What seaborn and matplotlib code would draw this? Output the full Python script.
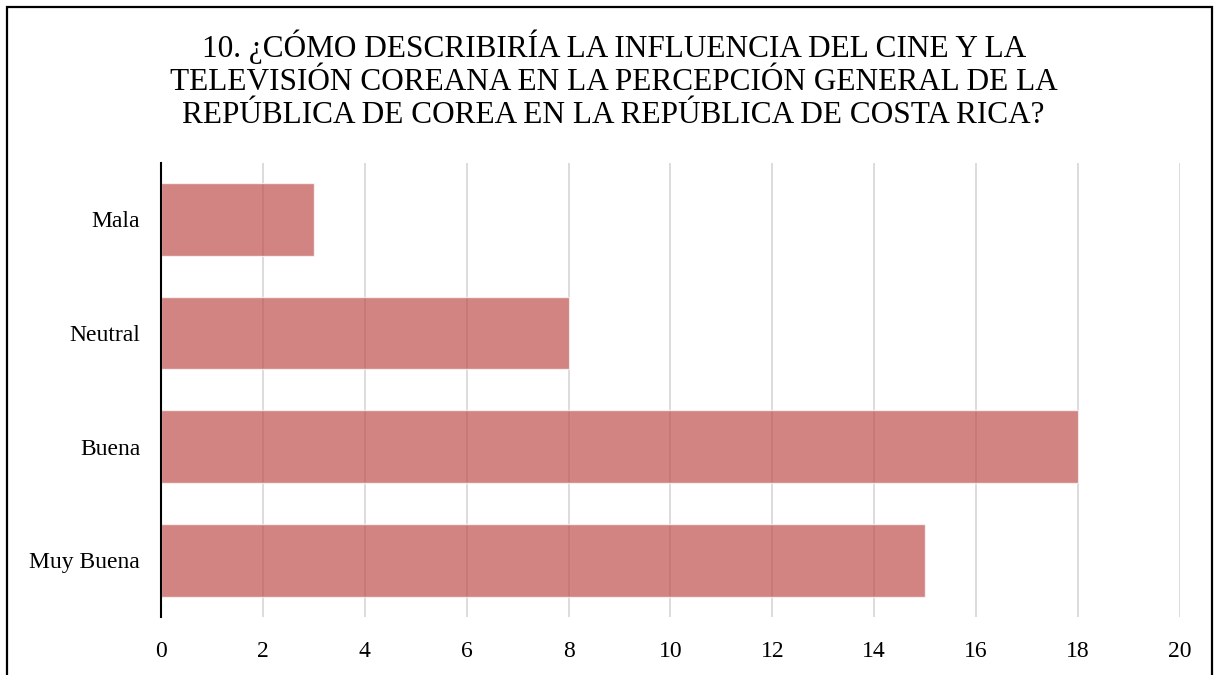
"""Horizontal bar chart: influence of Korean film and TV on perception of Korea in Costa Rica."""

import matplotlib

matplotlib.use("Agg")
import matplotlib.pyplot as plt
import pandas as pd
import seaborn as sns
from matplotlib.patches import Rectangle

categories = ["Mala", "Neutral", "Buena", "Muy Buena"]
counts = [3, 8, 18, 15]
x_ticks = [0, 2, 4, 6, 8, 10, 12, 14, 16, 18, 20]

title = (
    "10. ¿CÓMO DESCRIBIRÍA LA INFLUENCIA DEL CINE Y LA\n"
    "TELEVISIÓN COREANA EN LA PERCEPCIÓN GENERAL DE LA\n"
    "REPÚBLICA DE COREA EN LA REPÚBLICA DE COSTA RICA?"
)

sns.set_style("white")
plt.rcParams["font.family"] = ["Liberation Serif", "DejaVu Serif"]

df = pd.DataFrame({"categoria": categories, "cantidad": counts})

fig = plt.figure(figsize=(12.2, 6.75), dpi=100)
ax = fig.add_axes([0.132, 0.086, 0.835, 0.673])

sns.barplot(
    data=df,
    x="cantidad",
    y="categoria",
    order=categories,
    color="#C0504D",
    alpha=0.7,
    width=0.64,
    saturation=1,
    ax=ax,
)

ax.set_xlim(0, 20)
ax.set_xticks(x_ticks)
ax.grid(axis="x", color="#D9D9D9", linewidth=1.3)
ax.set_axisbelow(True)
ax.set_xlabel("")
ax.set_ylabel("")
ax.tick_params(axis="both", length=0, labelsize=17, colors="black")
ax.tick_params(axis="x", pad=17)
ax.tick_params(axis="y", pad=15)
for side in ["top", "right", "bottom"]:
    ax.spines[side].set_visible(False)
ax.spines["left"].set_color("black")
ax.spines["left"].set_linewidth(1.5)

# the title uses wide tracking, approximated with a slightly larger size
fig.text(0.503, 0.957, title, ha="center", va="top", fontsize=22.5,
         linespacing=1.2, color="black")

# outer frame around the chart area (bottom edge falls off the image)
fig.patches.append(Rectangle((7 / 1220, -0.05), 1205 / 1220, 1.05 - 7 / 675,
                             transform=fig.transFigure, fill=False,
                             edgecolor="black", linewidth=1.6))

fig.savefig("out.png", dpi=100)
plt.close(fig)
